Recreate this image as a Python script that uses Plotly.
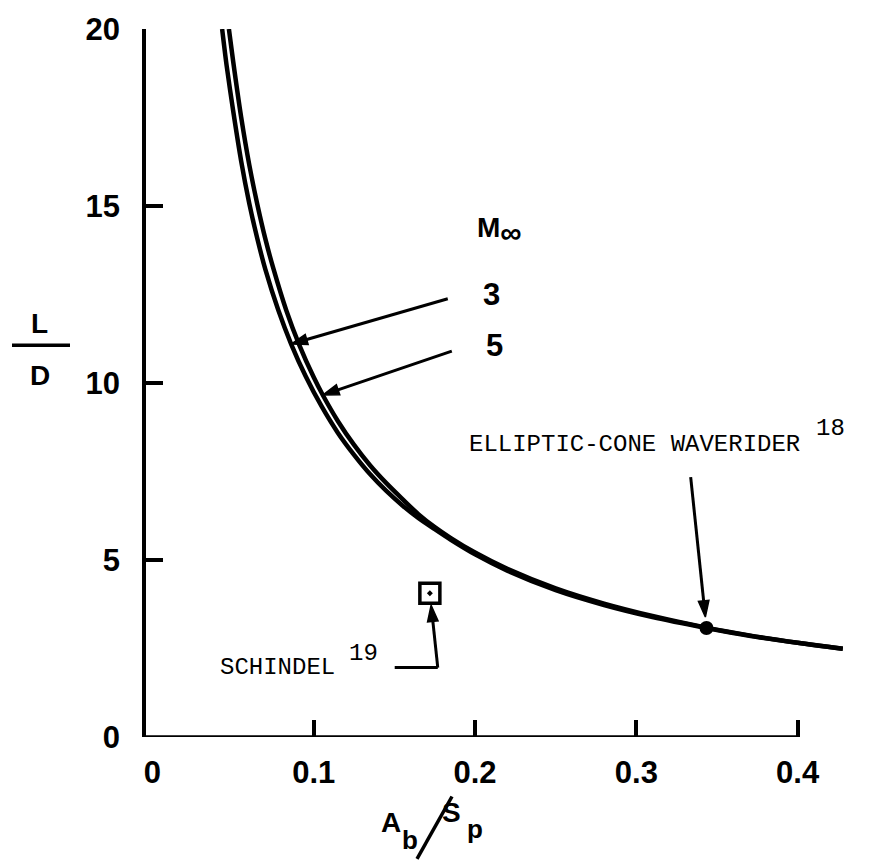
import plotly.graph_objects as go

# L/D versus base-area / planform-area ratio for waveriders
# Free-stream Mach 3 curve
m3_x = [0.0432, 0.046, 0.050, 0.055, 0.060, 0.065, 0.070, 0.078, 0.086, 0.095,
        0.105, 0.115, 0.125, 0.135, 0.145, 0.155, 0.165, 0.175, 0.185, 0.200,
        0.220, 0.250, 0.280, 0.310, 0.3435, 0.370, 0.400, 0.428]
m3_y = [20.0, 18.96, 17.70, 16.27, 15.08, 14.08, 13.21, 12.06, 11.10, 10.19,
        9.33, 8.59, 7.97, 7.42, 6.95, 6.54, 6.18, 5.87, 5.57, 5.16,
        4.70, 4.15, 3.73, 3.39, 3.08, 2.86, 2.66, 2.49]
# Free-stream Mach 5 curve
m5_x = [0.0474, 0.050, 0.055, 0.060, 0.065, 0.070, 0.075, 0.083, 0.091, 0.100,
        0.1056, 0.115, 0.125, 0.135, 0.145, 0.155, 0.165, 0.175, 0.185, 0.200,
        0.220, 0.250, 0.280, 0.310, 0.3435, 0.370, 0.400, 0.428]
m5_y = [20.0, 19.10, 17.51, 16.17, 15.05, 14.07, 13.23, 12.05, 11.08, 10.16,
        9.66, 8.92, 8.25, 7.67, 7.17, 6.72, 6.29, 5.93, 5.62, 5.21,
        4.75, 4.20, 3.77, 3.42, 3.09, 2.87, 2.66, 2.49]

# Reference configurations
ecw_x, ecw_y = [0.3435], [3.08]        # elliptic-cone waverider (ref. 18)
sch_x, sch_y = [0.172], [4.06]         # Schindel (ref. 19)

x_ticks = [0.1, 0.2, 0.3, 0.4]
x_tick_text = ["0.1", "0.2", "0.3", "0.4"]
y_ticks = [0, 5, 10, 15, 20]
y_tick_text = ["0", "5", "10", "15", "20"]
mach_labels = ["3", "5"]

X_MIN, X_MAX, X_AXIS_END = -0.004, 0.43, 0.4
Y_MIN, Y_MAX = 0, 20

W, H = 872, 862
ML, MR, MT, MB = 146, 26, 23, 125
PW, PH = W - ML - MR, H - MT - MB


def px(xp):
    return (xp - ML) / PW


def py(yp):
    return (H - MB - yp) / PH


INK = "black"
tick_font = dict(family="Liberation Sans, Arial, sans-serif", size=31, color=INK, weight="bold")
label_font = dict(tick_font, size=28)
mono = dict(family="Courier New, Liberation Mono, monospace", size=24, color=INK)


def pointer(xs, ys, standoff=0):
    """Straight leader ending in a solid arrowhead at its second point."""
    return go.Scatter(
        x=xs, y=ys, mode="lines+markers", hoverinfo="skip", showlegend=False,
        line=dict(color=INK, width=3),
        marker=dict(symbol="arrow", angleref="previous", color=INK, opacity=1,
                    size=[0, 17], standoff=[0, standoff],
                    line=dict(width=1.5, color=INK)),
    )


fig = go.Figure()
fig.add_trace(go.Scatter(x=m3_x, y=m3_y, mode="lines", name="3",
                         line=dict(color=INK, width=4.5, shape="spline", smoothing=0.8)))
fig.add_trace(go.Scatter(x=m5_x, y=m5_y, mode="lines", name="5",
                         line=dict(color=INK, width=4.5, shape="spline", smoothing=0.8)))
fig.add_trace(go.Scatter(x=ecw_x, y=ecw_y, mode="markers",
                         marker=dict(symbol="circle", size=14, color=INK)))
fig.add_trace(go.Scatter(x=sch_x, y=sch_y, mode="markers",
                         marker=dict(symbol="square-open-dot", size=20, color=INK,
                                     line=dict(color=INK, width=3.5))))

# Mach number pointers
fig.add_trace(pointer([0.1831, m3_x[8]], [12.38, m3_y[8]]))
fig.add_trace(pointer([0.1856, m5_x[10]], [10.90, m5_y[10]]))
# Elliptic-cone waverider pointer
fig.add_trace(pointer([0.3337, ecw_x[0]], [7.34, ecw_y[0]], standoff=11))
# Schindel bent leader: foot, then rising pointer
fig.add_trace(go.Scatter(x=[0.1502, 0.1769], y=[1.96, 1.96], mode="lines",
                         line=dict(color=INK, width=3), hoverinfo="skip", showlegend=False))
fig.add_trace(pointer([0.1769, sch_x[0]], [1.96, sch_y[0]], standoff=12))

# carrier trace for the secondary x axis that holds the origin label
fig.add_trace(go.Scatter(x=[None], y=[None], xaxis="x2", showlegend=False, hoverinfo="skip"))

# x axis line stops at the last tick
fig.add_shape(type="line", xref="x", yref="y", x0=X_MIN, x1=X_AXIS_END, y0=Y_MIN, y1=Y_MIN,
              line=dict(color=INK, width=3.5), layer="above")

for lab, (lx, ly) in zip(mach_labels, [(0.2104, 12.49), (0.2122, 11.06)]):
    fig.add_annotation(x=lx, y=ly, xref="x", yref="y", text=lab, showarrow=False,
                       font=tick_font, xanchor="center", yanchor="middle")
fig.add_annotation(x=0.1998, y=14.31, xref="x", yref="y",
                   text="M<sub><span style='font-size:30px'>∞</span></sub>",
                   showarrow=False, font=label_font, xanchor="left", yanchor="middle")

fig.add_annotation(x=0.1949, y=8.26, xref="x", yref="y", text="ELLIPTIC-CONE WAVERIDER",
                   showarrow=False, font=mono, xanchor="left", yanchor="middle")
fig.add_annotation(x=0.4204, y=8.71, xref="x", yref="y", text="18",
                   showarrow=False, font=mono, xanchor="center", yanchor="middle")
fig.add_annotation(x=0.0406, y=1.96, xref="x", yref="y", text="SCHINDEL",
                   showarrow=False, font=mono, xanchor="left", yanchor="middle")
fig.add_annotation(x=0.131, y=2.35, xref="x", yref="y", text="19",
                   showarrow=False, font=mono, xanchor="center", yanchor="middle")

# y title: L over D
fig.add_annotation(x=px(40), y=py(320), xref="paper", yref="paper", text="L",
                   showarrow=False, font=label_font, xanchor="center", yanchor="middle")
fig.add_shape(type="line", xref="paper", yref="paper", x0=px(12), x1=px(70),
              y0=py(342), y1=py(342), line=dict(color=INK, width=3.5))
fig.add_annotation(x=px(40), y=py(372), xref="paper", yref="paper", text="D",
                   showarrow=False, font=label_font, xanchor="center", yanchor="middle")

# x title: A_b / S_p, each glyph placed on its own
for txt, cx, cy, sz in [("A", 391, 823, 28), ("b", 410, 841, 26),
                        ("S", 451, 813, 28), ("p", 475, 830, 26)]:
    fig.add_annotation(x=px(cx), y=py(cy), xref="paper", yref="paper", text=txt,
                       showarrow=False, font=dict(tick_font, size=sz),
                       xanchor="center", yanchor="middle")
fig.add_shape(type="line", xref="paper", yref="paper", x0=px(417), x1=px(452),
              y0=py(860), y1=py(797), line=dict(color=INK, width=3.5))

fig.update_layout(
    width=W, height=H, autosize=False,
    margin=dict(l=ML, r=MR, t=MT, b=MB, pad=0),
    plot_bgcolor="white", paper_bgcolor="white",
    showlegend=False,
    xaxis=dict(range=[X_MIN, X_MAX], tickvals=x_ticks, ticktext=x_tick_text,
               ticks="inside", ticklen=17, tickwidth=3.5, tickcolor=INK,
               showline=False, showgrid=False, zeroline=False,
               tickfont=tick_font, ticklabelstandoff=14),
    xaxis2=dict(overlaying="x", matches="x", anchor="y", side="bottom",
                range=[X_MIN, X_MAX], tickvals=[0], ticktext=["0"], ticks="",
                showline=False, showgrid=False, zeroline=False,
                tickfont=tick_font, ticklabelstandoff=14),
    yaxis=dict(range=[Y_MIN, Y_MAX], tickvals=y_ticks, ticktext=y_tick_text,
               ticks="inside", ticklen=17, tickwidth=3.5, tickcolor=INK,
               showline=True, linewidth=3.5, linecolor=INK,
               showgrid=False, zeroline=False,
               tickfont=tick_font, ticklabelstandoff=16),
)

fig.write_html("out.html")
